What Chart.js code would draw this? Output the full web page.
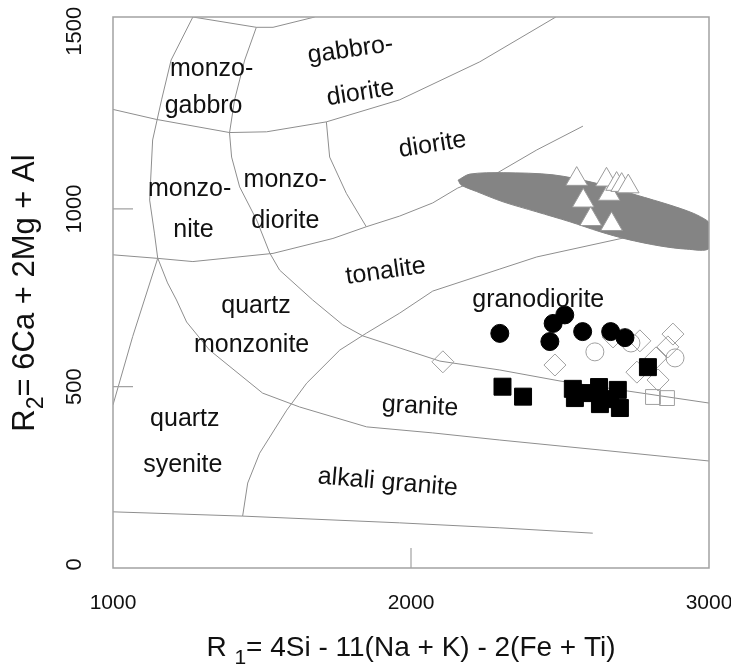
<!DOCTYPE html>
<html>
<head>
<meta charset="utf-8">
<script src="https://cdn.jsdelivr.net/npm/chart.js@4.4.1/dist/chart.umd.min.js"></script>
<style>
  html, body { margin: 0; padding: 0; background: #ffffff; }
  #wrap { width: 731px; height: 667px; }
</style>
</head>
<body>
<div id="wrap"><canvas id="c" width="731" height="667"></canvas></div>
<script>
// Axis ticks
const r1Ticks = [1000, 2000, 3000];
const r2Ticks = [0, 500, 1000, 1500];

// Samples, [R1, R2]
const solidCircles = [[2298,650],[2477,678],[2516,702],[2466,627],[2576,655],[2670,655],[2718,638]];
const solidSquares = [[2307,500],[2376,472],[2543,494],[2550,468],[2590,482],[2631,499],[2634,451],[2668,465],[2694,491],[2701,440],[2795,555]];
const openTriangles = [[2556,1084],[2578,1023],[2603,971],[2673,957],[2665,1042],[2656,1082],[2690,1070],[2707,1067],[2729,1063]];
const openDiamonds = [[2107,570],[2483,561],[2678,640],[2768,629],[2879,648],[2862,612],[2758,541],[2822,581],[2829,519]];
const openCircles = [[2617,598],[2738,623],[2886,581]];
const openSquares = [[2812,471],[2859,468]];

// Shaded reference field
const greyField = [[2158,1081],[2197,1098],[2309,1102],[2477,1096],[2623,1072],[2757,1039],[2869,1011],[2947,988],[2994,967],[3000,958],[3000,889],[2925,887],[2835,896],[2724,915],[2634,936],[2533,964],[2421,992],[2309,1020],[2220,1049],[2169,1067],[2158,1081]];

// Classification field boundaries
const boundaryA = [[1000,1280],[1145,1252],[1391,1215],[1515,1217],[1716,1245],[1962,1307],[2231,1414],[2486,1540]];
const boundaryB = [[1268,1540],[1481,1511],[1537,1511],[1677,1540]];
const boundaryC = [[1268,1540],[1195,1419],[1163,1307],[1133,1194],[1123,1025],[1139,932],[1150,862],[1183,792],[1213,744],[1247,682],[1324,603],[1502,482],[1626,443],[1851,387],[2073,370],[2298,350],[2634,322],[3000,291]];
const boundaryD = [[1481,1511],[1442,1419],[1408,1307],[1391,1214],[1398,1146],[1425,1062],[1482,969],[1526,876],[1559,828],[1670,744],[1771,674],[1838,643],[2097,572],[2298,547],[2500,516],[3000,454]];
const boundaryE = [[1716,1245],[1727,1146],[1783,1044],[1850,950],[1962,980],[2073,1017],[2157,1059],[2291,1102],[2422,1166],[2577,1233]];
const boundaryF = [[1000,871],[1150,861],[1268,852],[1537,875],[1738,917],[1850,950]];
const boundaryG = [[1435,136],[1452,229],[1492,313],[1583,434],[1650,510],[1761,603],[1851,651],[1962,707],[2073,769],[2298,831],[2422,865],[2711,918],[2835,938]];
const boundaryH = [[1000,148],[1435,136],[1962,117],[2298,103],[2610,88]];
const boundaryI = [[1000,449],[1066,641],[1150,861]];

// Field names: text, anchor (R1, R2), angle in degrees
const fieldNames = [
  ['monzo-', 1331, 1374, 0],
  ['gabbro', 1304, 1270, 0],
  ['gabbro-', 1800, 1428, -8],
  ['diorite', 1834, 1307, -9],
  ['diorite', 2076, 1161, -9],
  ['monzo-', 1257, 1036, 0],
  ['nite', 1270, 922, 0],
  ['monzo-', 1578, 1061, 0],
  ['diorite', 1578, 947, 0],
  ['tonalite', 1918, 805, -8],
  ['quartz', 1480, 708, 0],
  ['monzonite', 1465, 598, 0],
  ['granodiorite', 2427, 725, 0],
  ['granite', 2029, 425, 3],
  ['quartz', 1241, 389, 0],
  ['syenite', 1234, 261, 0],
  ['alkali granite', 1920, 211, 5]
];

const FONT = '"Liberation Sans", Arial, Helvetica, sans-serif';
const toXY = arr => arr.map(p => ({ x: p[0], y: p[1] }));

function markers(data, style, radius, fill, stroke) {
  return {
    data: toXY(data), pointStyle: style, pointRadius: radius, pointHoverRadius: radius,
    backgroundColor: fill, borderColor: stroke, pointBorderWidth: 1, showLine: false
  };
}
function boundary(data) {
  return {
    data: toXY(data), showLine: true, pointRadius: 0, pointHoverRadius: 0,
    borderColor: '#8e8e8e', borderWidth: 1, fill: false, tension: 0
  };
}

// Plot frame and inward tick marks
const framePlugin = {
  id: 'frame',
  afterDatasetsDraw(chart) {
    const { ctx, chartArea: a, scales } = chart;
    ctx.save();
    ctx.strokeStyle = '#a2a2a2';
    ctx.lineWidth = 1.5;
    ctx.strokeRect(a.left, a.top, a.right - a.left, a.bottom - a.top);
    ctx.lineWidth = 1.2;
    ctx.beginPath();
    scales.x.ticks.forEach((t, i, arr) => {
      if (i === 0 || i === arr.length - 1) return;
      const px = scales.x.getPixelForValue(t.value);
      ctx.moveTo(px, a.bottom); ctx.lineTo(px, a.bottom - 20);
    });
    scales.y.ticks.forEach((t, i, arr) => {
      if (i === 0 || i === arr.length - 1) return;
      const py = scales.y.getPixelForValue(t.value);
      ctx.moveTo(a.left, py); ctx.lineTo(a.left + 20, py);
    });
    ctx.stroke();
    ctx.restore();
  }
};

// Field names inside the diagram
const fieldNamePlugin = {
  id: 'fieldNames',
  afterDatasetsDraw(chart) {
    const { ctx, scales: { x, y } } = chart;
    ctx.save();
    ctx.font = '25px ' + FONT;
    ctx.fillStyle = '#111111';
    ctx.textAlign = 'center';
    ctx.textBaseline = 'alphabetic';
    for (const [text, r1, r2, ang] of fieldNames) {
      ctx.save();
      ctx.translate(x.getPixelForValue(r1), y.getPixelForValue(r2));
      ctx.rotate(ang * Math.PI / 180);
      ctx.fillText(text, 0, 0);
      ctx.restore();
    }
    ctx.restore();
  }
};

// Axis titles with subscripts
function drawRuns(ctx, runs, size) {
  const main = size + 'px ' + FONT;
  const sub = Math.round(size * 0.75) + 'px ' + FONT;
  let w = 0;
  for (const [t, s] of runs) { ctx.font = s ? sub : main; w += ctx.measureText(t).width; }
  let cx = -w / 2;
  for (const [t, s] of runs) {
    ctx.font = s ? sub : main;
    ctx.fillText(t, cx, s ? size * 0.3 : 0);
    cx += ctx.measureText(t).width;
  }
}
const titlePlugin = {
  id: 'axisTitles',
  afterDraw(chart) {
    const { ctx, chartArea: a } = chart;
    ctx.save();
    ctx.fillStyle = '#111111';
    ctx.textAlign = 'left';
    ctx.textBaseline = 'alphabetic';
    ctx.save();
    ctx.translate((a.left + a.right) / 2, 656);
    drawRuns(ctx, [['R ', false], ['1', true], ['= 4Si - 11(Na + K) - 2(Fe + Ti)', false]], 28);
    ctx.restore();
    ctx.save();
    ctx.translate(34, 293);
    ctx.rotate(-Math.PI / 2);
    drawRuns(ctx, [['R', false], ['2', true], ['= 6Ca + 2Mg + Al', false]], 31);
    ctx.restore();
    ctx.restore();
  }
};

const plainTick = v => String(v);

new Chart(document.getElementById('c'), {
  type: 'scatter',
  data: {
    datasets: [
      markers(solidCircles, 'circle', 9, '#000000', '#000000'),
      markers(solidSquares, 'rect', 12, '#000000', '#000000'),
      markers(openTriangles, 'triangle', 12.5, '#ffffff', '#9a9a9a'),
      {
        data: toXY(greyField), showLine: true, pointRadius: 0, pointHoverRadius: 0,
        borderColor: '#848484', borderWidth: 1, backgroundColor: '#848484', fill: 'shape', tension: 0.3
      },
      markers(openCircles, 'circle', 9, 'rgba(255,255,255,0)', '#a0a0a0'),
      markers(openSquares, 'rect', 10.5, 'rgba(255,255,255,0)', '#a0a0a0'),
      markers(openDiamonds, 'rectRot', 11, 'rgba(255,255,255,0)', '#a0a0a0'),
      boundary(boundaryA), boundary(boundaryB), boundary(boundaryC),
      boundary(boundaryD), boundary(boundaryE), boundary(boundaryF),
      boundary(boundaryG), boundary(boundaryH), boundary(boundaryI)
    ]
  },
  options: {
    responsive: false,
    animation: false,
    devicePixelRatio: 1,
    layout: { padding: { top: 17, right: 22, left: 0, bottom: 0 } },
    plugins: { legend: { display: false }, tooltip: { enabled: false } },
    scales: {
      x: {
        type: 'linear', min: 1000, max: 3000,
        grid: { display: false, drawTicks: false },
        border: { display: false },
        afterBuildTicks: s => { s.ticks = r1Ticks.map(v => ({ value: v })); },
        afterFit: s => { s.height = 99; s.paddingLeft = 0; s.paddingRight = 0; },
        ticks: { callback: plainTick, color: '#111111', font: { family: FONT, size: 21 }, padding: 23, maxRotation: 0, autoSkip: false }
      },
      y: {
        type: 'linear', min: -10, max: 1540,
        grid: { display: false, drawTicks: false },
        border: { display: false },
        afterBuildTicks: s => { s.ticks = r2Ticks.map(v => ({ value: v })); },
        afterFit: s => { s.width = 113; s.paddingTop = 0; s.paddingBottom = 0; },
        ticks: { callback: plainTick, color: '#111111', font: { family: FONT, size: 22 }, padding: 14, minRotation: 90, maxRotation: 90, crossAlign: 'center', autoSkip: false }
      }
    }
  },
  plugins: [framePlugin, fieldNamePlugin, titlePlugin]
});
</script>
</body>
</html>
